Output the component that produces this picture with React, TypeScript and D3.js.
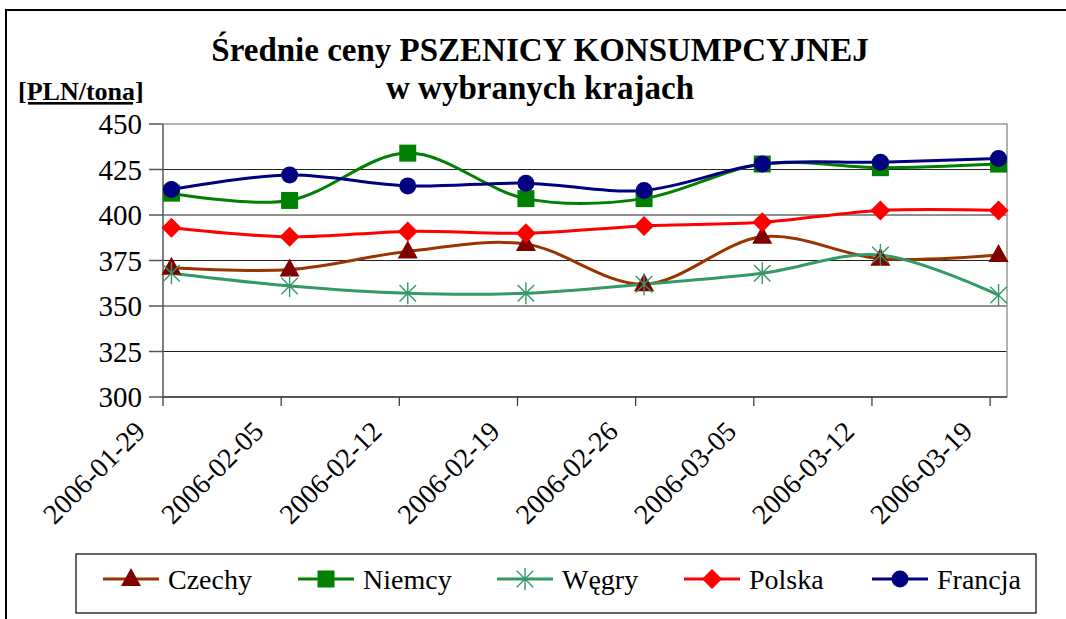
import * as d3 from "d3";

// ── Data ──────────────────────────────────────────────────────────────────────
const DATES = [
  "2006-01-29", "2006-02-05", "2006-02-12", "2006-02-19",
  "2006-02-26", "2006-03-05", "2006-03-12", "2006-03-19",
];

const CZECHY  = [371, 370, 380, 384, 362, 388, 376, 378];
const NIEMCY  = [412, 408, 434, 409, 409, 428, 426, 428];
const WEGRY   = [368, 361, 357, 357, 362, 368, 378, 356];
const POLSKA  = [393, 388, 391, 390, 394, 396, 402.5, 402.5];
const FRANCJA = [414, 422, 416, 417.5, 413.5, 428, 429, 431];

const Y_TICKS = [300, 325, 350, 375, 400, 425, 450];

type Marker = "triangle" | "square" | "star" | "diamond" | "circle";

const SERIES: { name: string; values: number[]; line: string; fill: string; marker: Marker }[] = [
  { name: "Czechy",  values: CZECHY,  line: "#993300", fill: "#800000", marker: "triangle" },
  { name: "Niemcy",  values: NIEMCY,  line: "#008000", fill: "#008000", marker: "square" },
  { name: "Węgry",   values: WEGRY,   line: "#339966", fill: "#339966", marker: "star" },
  { name: "Polska",  values: POLSKA,  line: "#FF0000", fill: "#FF0000", marker: "diamond" },
  { name: "Francja", values: FRANCJA, line: "#000080", fill: "#000080", marker: "circle" },
];

// legend item left edges (layout)
const LEGEND_X = [103, 298, 497, 684, 872];

// ── Layout ────────────────────────────────────────────────────────────────────
const WIDTH = 1066;
const HEIGHT = 619;
const P = { left: 163, right: 1007, top: 124, bottom: 397 };
const FONT = "Liberation Serif";

const parse = d3.utcParse("%Y-%m-%d");
const dates = DATES.map((d) => parse(d) as Date);
// date axis, day base unit: each point sits in the middle of its day
const x = d3.scaleUtc()
  .domain([dates[0], d3.utcDay.offset(dates[dates.length - 1], 1)])
  .range([P.left, P.right]);
const xMid = (d: Date) => x(d3.utcHour.offset(d, 12));
const y = d3.scaleLinear().domain([300, 450]).range([P.bottom, P.top]);

const lineGen = d3.line<number>()
  .x((_, i) => xMid(dates[i]))
  .y((v) => y(v))
  .curve(d3.curveCardinal.tension(0));

function MarkerShape({ m, cx, cy, color }: { m: Marker; cx: number; cy: number; color: string }) {
  if (m === "circle") return <circle cx={cx} cy={cy} r={8.5} fill={color} />;
  if (m === "square") return <rect x={cx - 8.5} y={cy - 8.5} width={17} height={17} fill={color} />;
  if (m === "diamond")
    return <path d={`M${cx},${cy - 10}L${cx + 10},${cy}L${cx},${cy + 10}L${cx - 10},${cy}Z`} fill={color} />;
  if (m === "triangle")
    return <path d={`M${cx},${cy - 11}L${cx + 10},${cy + 7}L${cx - 10},${cy + 7}Z`} fill={color} />;
  const r = 11;
  const a = r * 0.75;
  return (
    <path
      d={`M${cx},${cy - r}L${cx},${cy + r}M${cx - a},${cy - a}L${cx + a},${cy + a}M${cx - a},${cy + a}L${cx + a},${cy - a}`}
      stroke={color} strokeWidth={1.4} fill="none"
    />
  );
}

export default function App() {
  return (
    <div style={{ position: "absolute", left: 0, top: 0 }}>
      <svg width={WIDTH} height={HEIGHT} style={{ display: "block" }}>
        {/* outer frame */}
        <rect x={6} y={10} width={WIDTH + 10} height={HEIGHT + 10} fill="#fff" stroke="#000" strokeWidth={2} />

        {/* title */}
        <text x={540} y={61} textAnchor="middle" fontFamily={FONT} fontWeight="bold" fontSize={33}>
          Średnie ceny PSZENICY KONSUMPCYJNEJ
        </text>
        <text x={540} y={99} textAnchor="middle" fontFamily={FONT} fontWeight="bold" fontSize={33}>
          w wybranych krajach
        </text>

        {/* unit label */}
        <text x={18} y={100} fontFamily={FONT} fontWeight="bold" fontSize={26} textDecoration="underline">
          [PLN/tona]
        </text>

        {/* grid */}
        {Y_TICKS.filter((t) => t > 300 && t < 450).map((t) => (
          <line key={t} x1={P.left} x2={P.right} y1={y(t)} y2={y(t)} stroke="#222" strokeWidth={1} />
        ))}

        {/* plot border top/right */}
        <path d={`M${P.left},${P.top}H${P.right}V${P.bottom}`} fill="none" stroke="#999" strokeWidth={1.5} />

        {/* y axis */}
        <line x1={P.left} x2={P.left} y1={P.top} y2={P.bottom} stroke="#555" strokeWidth={1.5} />
        {Y_TICKS.map((t) => (
          <g key={t}>
            <line x1={P.left - 14} x2={P.left} y1={y(t)} y2={y(t)} stroke="#555" strokeWidth={1.5} />
            <text x={142} y={y(t) + 10} textAnchor="end" fontFamily={FONT} fontSize={29}>{t}</text>
          </g>
        ))}

        {/* x axis */}
        <line x1={P.left} x2={P.right} y1={P.bottom} y2={P.bottom} stroke="#555" strokeWidth={2} />
        {dates.map((d, i) => (
          <line key={DATES[i]} x1={x(d)} x2={x(d)} y1={P.bottom} y2={P.bottom + 9} stroke="#333" strokeWidth={1.2} />
        ))}

        {/* series */}
        {SERIES.map((s) => (
          <path key={s.name} d={lineGen(s.values) ?? ""} fill="none" stroke={s.line} strokeWidth={3} />
        ))}
        {SERIES.map((s) => (
          <g key={s.name}>
            {s.values.map((v, i) => (
              <MarkerShape key={i} m={s.marker} cx={xMid(dates[i])} cy={y(v)} color={s.fill} />
            ))}
          </g>
        ))}

        {/* legend */}
        <rect x={76} y={554} width={960} height={59} fill="#fff" stroke="#000" strokeWidth={1.2} />
        {SERIES.map((s, i) => {
          const lx = LEGEND_X[i];
          const ly = 579;
          return (
            <g key={s.name}>
              <line x1={lx} x2={lx + 56} y1={ly} y2={ly} stroke={s.line} strokeWidth={3} />
              <MarkerShape m={s.marker} cx={lx + 28} cy={ly} color={s.fill} />
              <text x={lx + 65} y={ly + 10} fontFamily={FONT} fontSize={28}>{s.name}</text>
            </g>
          );
        })}

        {/* rotated date labels */}
        {dates.map((d, i) => (
          <text
            key={DATES[i]}
            transform={`translate(${x(d) - 16},${P.bottom + 36}) rotate(-45)`}
            textAnchor="end" fontFamily={FONT} fontSize={28}
          >
            {DATES[i]}
          </text>
        ))}
      </svg>
    </div>
  );
}
